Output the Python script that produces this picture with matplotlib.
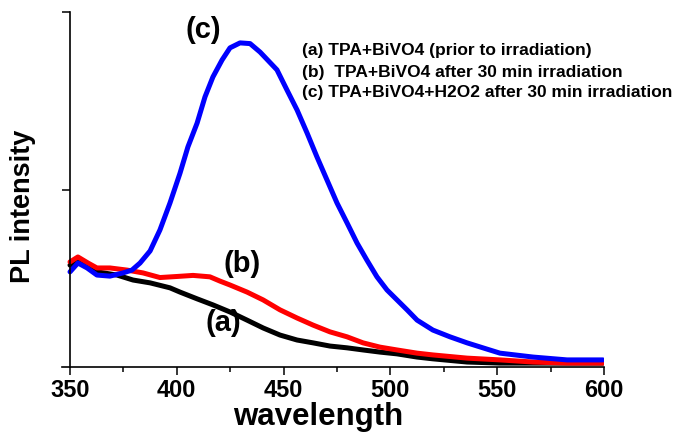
import matplotlib
matplotlib.use('Agg')
import matplotlib.pyplot as plt
from matplotlib.ticker import MultipleLocator

plt.rcParams['font.family'] = ['Liberation Sans', 'DejaVu Sans']
plt.rcParams['font.weight'] = 'bold'

# (a) TPA+BiVO4 prior to irradiation
wl_a = [350.0, 353.7, 358.4, 362.6, 372.0, 379.5, 387.5, 396.8, 401.5, 409.5,
        416.9, 424.9, 432.9, 440.4, 448.3, 456.3, 463.8, 471.7, 479.7, 487.2,
        495.1, 503.1, 512.5, 519.9, 535.9, 551.3, 574.7, 599.5]
pl_a = [28.7, 30.1, 28.2, 26.8, 25.9, 24.5, 23.7, 22.3, 21.1, 19.2,
        17.5, 15.5, 13.2, 11.0, 9.0, 7.6, 6.8, 5.9, 5.4, 4.8,
        4.2, 3.7, 2.8, 2.3, 1.4, 1.1, 1.1, 1.1]

# (b) TPA+BiVO4 after 30 min irradiation
wl_b = [350.0, 353.7, 358.4, 362.6, 368.7, 376.7, 384.2, 392.1, 400.1, 407.6,
        415.5, 420.2, 424.9, 432.9, 440.4, 448.3, 456.3, 463.8, 471.7, 479.7,
        487.2, 495.1, 503.1, 512.5, 519.9, 535.9, 551.3, 566.8, 582.7, 599.5]
pl_b = [29.6, 31.0, 29.3, 27.9, 27.9, 27.3, 26.5, 25.2, 25.5, 25.8,
        25.4, 24.2, 23.1, 21.1, 18.9, 16.1, 13.8, 11.8, 9.9, 8.5,
        6.8, 5.6, 4.8, 3.9, 3.4, 2.5, 2.0, 1.4, 1.1, 1.1]

# (c) TPA+BiVO4+H2O2 after 30 min irradiation
wl_c = [350.0, 353.7, 358.0, 362.6, 368.7, 374.8, 379.0, 382.8, 387.5, 392.1,
        396.8, 401.5, 405.2, 409.5, 413.2, 416.9, 421.2, 424.9, 429.6, 434.3,
        439.0, 446.9, 451.6, 456.3, 461.0, 465.6, 470.3, 475.0, 479.7, 484.4,
        489.0, 493.7, 498.4, 503.1, 507.8, 512.5, 519.9, 527.9, 535.9, 543.3,
        551.3, 566.8, 582.7, 599.5]
pl_c = [26.8, 29.3, 27.9, 25.9, 25.6, 26.5, 27.3, 29.3, 32.7, 38.6,
        46.2, 54.6, 62.0, 68.7, 76.1, 81.7, 86.5, 89.9, 91.3, 91.1,
        88.7, 83.7, 78.0, 72.4, 65.9, 59.2, 52.7, 46.2, 40.6, 34.9,
        30.1, 25.4, 21.7, 18.9, 16.1, 13.2, 10.4, 8.5, 6.8, 5.4,
        3.9, 2.8, 2.0, 2.0]

legend_lines = ['(a) TPA+BiVO4 (prior to irradiation)',
                '(b)  TPA+BiVO4 after 30 min irradiation',
                '(c) TPA+BiVO4+H2O2 after 30 min irradiation']

fig = plt.figure(figsize=(6.79, 4.34), dpi=100)
ax = fig.add_axes([62/679, 1 - 367/434, 542/679, 355/434])

kw = dict(linewidth=3.6, solid_joinstyle='round', solid_capstyle='round')
ax.plot(wl_a, pl_a, color='black', **kw)
ax.plot(wl_b, pl_b, color='#ff0000', **kw)
ax.plot(wl_c, pl_c, color='#0000ff', **kw)

ax.set_xlim(346.25, 600)
ax.set_ylim(0, 100)
ax.spines['top'].set_visible(False)
ax.spines['right'].set_visible(False)
ax.spines['left'].set_position(('data', 350))
for s in ('left', 'bottom'):
    ax.spines[s].set_linewidth(1.2)

ax.set_xticks([350, 400, 450, 500, 550, 600])
ax.xaxis.set_minor_locator(MultipleLocator(25))
ax.set_yticks([50, 100])
ax.set_yticklabels([])
ax.tick_params(axis='both', which='major', direction='out', length=5.5, width=1.1,
               labelsize=17, pad=3)
ax.tick_params(axis='x', which='minor', direction='out', length=3.5, width=1.1)
for lbl in ax.get_xticklabels():
    lbl.set_fontweight('bold')

ax.set_xlabel('wavelength', fontsize=22.5, fontweight='bold')
ax.xaxis.set_label_coords(0.472, -0.183)
ax.xaxis.label.set_va('bottom')
ax.set_ylabel('PL intensity', fontsize=19.5, fontweight='bold')
ax.yaxis.set_label_coords(-0.072, 0.453)
ax.yaxis.label.set_va('center')

ax.text(203/679, 1 - 30/434, '(c)', transform=fig.transFigure, fontsize=21,
        fontweight='bold', ha='center', va='center')
ax.text(242/679, 1 - 264/434, '(b)', transform=fig.transFigure, fontsize=21,
        fontweight='bold', ha='center', va='center')
ax.text(223/679, 1 - 323/434, '(a)', transform=fig.transFigure, fontsize=21,
        fontweight='bold', ha='center', va='center')

for i, line in enumerate(legend_lines):
    ax.text(302/679, 1 - (51 + 21 * i)/434, line, transform=fig.transFigure,
            fontsize=12.5, fontweight='bold', ha='left', va='center')

fig.savefig('out.png', dpi=100)
